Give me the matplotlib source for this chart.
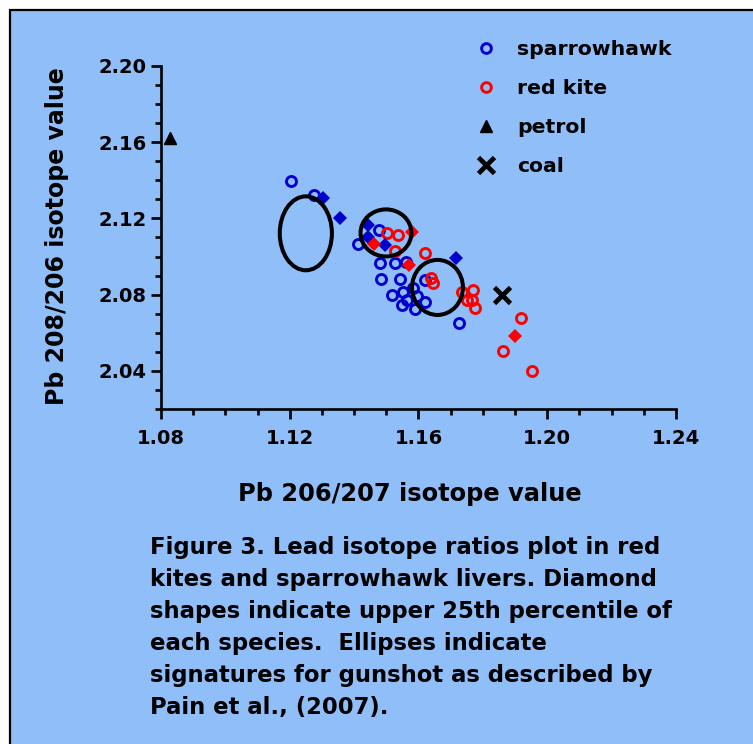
import matplotlib
matplotlib.use("Agg")
import matplotlib.pyplot as plt
from matplotlib.patches import Ellipse, Rectangle
from matplotlib.lines import Line2D
from matplotlib.ticker import MultipleLocator, FormatStrFormatter

plt.rcParams['font.family'] = ['DejaVu Sans']
plt.rcParams['font.weight'] = 'bold'

# ---- data ----
sparrowhawk_x = [1.1204, 1.1275, 1.1477, 1.1412, 1.1480, 1.1527, 1.1561, 1.1483, 1.1542,
                 1.1620, 1.1518, 1.1552, 1.1583, 1.1595, 1.1564, 1.1549, 1.1589, 1.1620, 1.1726]
sparrowhawk_y = [2.1397, 2.1323, 2.1140, 2.1066, 2.0966, 2.0966, 2.0972, 2.0882, 2.0882,
                 2.0877, 2.0799, 2.0814, 2.0835, 2.0793, 2.0772, 2.0746, 2.0725, 2.0762, 2.0652]
sparrowhawk_q_x = [1.1303, 1.1356, 1.1443, 1.1443, 1.1496, 1.1716]
sparrowhawk_q_y = [2.1307, 2.1203, 2.1166, 2.1103, 2.1061, 2.0993]

redkite_x = [1.1502, 1.1536, 1.1527, 1.1620, 1.1639, 1.1645, 1.1735, 1.1769, 1.1751,
             1.1766, 1.1775, 1.1918, 1.1862, 1.1953]
redkite_y = [2.1124, 2.1113, 2.1029, 2.1019, 2.0888, 2.0861, 2.0814, 2.0825, 2.0772,
             2.0772, 2.0730, 2.0678, 2.0505, 2.0400]
redkite_q_x = [1.1580, 1.1462, 1.1570, 1.1900]
redkite_q_y = [2.1129, 2.1066, 2.0956, 2.0583]

petrol_x, petrol_y = [1.0828], [2.1620]
coal_x, coal_y = [1.1858], [2.0799]

# gunshot ellipses: centre x, centre y, width, height
ellipse_cx = [1.1250, 1.1499, 1.1659]
ellipse_cy = [2.1122, 2.1124, 2.0838]
ellipse_w = [0.0162, 0.0158, 0.0158]
ellipse_h = [0.0388, 0.0247, 0.0289]

x_ticks = [1.08, 1.12, 1.16, 1.20, 1.24]
y_ticks = [2.04, 2.08, 2.12, 2.16, 2.20]

caption_lines = [
    "Figure 3. Lead isotope ratios plot in red",
    "kites and sparrowhawk livers. Diamond",
    "shapes indicate upper 25th percentile of",
    "each species.  Ellipses indicate",
    "signatures for gunshot as described by",
    "Pain et al., (2007).",
]

BLUE = '#0000CC'
RED = '#FF0000'
BG = '#8FBEF9'

W, H = 753, 744
fig = plt.figure(figsize=(W / 100, H / 100), dpi=100, facecolor='white')

# background panel with border
fig.patches.append(Rectangle((9.5 / W, -0.1), 1.2, 1 - 10.5 / H + 0.1,
                             transform=fig.transFigure, facecolor=BG,
                             edgecolor='black', linewidth=1.6, zorder=-5))

ax = fig.add_axes([161 / W, 1 - 409 / H, 515 / W, 343 / H])
ax.set_zorder(2)
ax.set_facecolor('none')
ax.set_xlim(1.08, 1.24)
ax.set_ylim(2.02, 2.20)
ax.set_xticks(x_ticks)
ax.set_yticks(y_ticks)
ax.xaxis.set_major_formatter(FormatStrFormatter('%.2f'))
ax.yaxis.set_major_formatter(FormatStrFormatter('%.2f'))
ax.xaxis.set_minor_locator(MultipleLocator(0.01))
ax.yaxis.set_minor_locator(MultipleLocator(0.01))
for s in ['top', 'right']:
    ax.spines[s].set_visible(False)
for s in ['left', 'bottom']:
    ax.spines[s].set_linewidth(1.9)
ax.tick_params(which='major', length=7.5, width=1.9, labelsize=14, pad=3)
ax.tick_params(which='minor', length=4.5, width=1.9)
ax.tick_params(axis='x', which='major', pad=7)
for lab in ax.get_xticklabels() + ax.get_yticklabels():
    lab.set_fontweight('bold')

circ_kw = dict(linestyle='none', marker='o', markersize=7.2, markerfacecolor='none',
               markeredgewidth=2.1)
ax.plot(sparrowhawk_x, sparrowhawk_y, markeredgecolor=BLUE, zorder=3, **circ_kw)
ax.plot(redkite_x, redkite_y, markeredgecolor=RED, zorder=4, **circ_kw)
dia_kw = dict(linestyle='none', marker='D', markersize=6.8, markeredgewidth=0)
ax.plot(sparrowhawk_q_x, sparrowhawk_q_y, color=BLUE, zorder=5, **dia_kw)
ax.plot(redkite_q_x, redkite_q_y, color=RED, zorder=5, **dia_kw)
ax.plot(petrol_x, petrol_y, linestyle='none', marker='^', markersize=9, color='black',
        zorder=5, clip_on=False)
ax.plot(coal_x, coal_y, linestyle='none', marker='x', markersize=11, markeredgewidth=3.4,
        color='black', zorder=5)

for cx, cy, w, h in zip(ellipse_cx, ellipse_cy, ellipse_w, ellipse_h):
    ax.add_patch(Ellipse((cx, cy), w, h, fill=False, edgecolor='black',
                         linewidth=2.9, zorder=6))

handles = [
    Line2D([], [], linestyle='none', marker='o', markersize=7, markerfacecolor='none',
           markeredgecolor=BLUE, markeredgewidth=2.1),
    Line2D([], [], linestyle='none', marker='o', markersize=7, markerfacecolor='none',
           markeredgecolor=RED, markeredgewidth=2.1),
    Line2D([], [], linestyle='none', marker='^', markersize=9, color='black'),
    Line2D([], [], linestyle='none', marker='x', markersize=11, markeredgewidth=3.4,
           color='black'),
]
labels = ['sparrowhawk', 'red kite', 'petrol', 'coal']
fig.legend(handles, labels, loc='upper left', bbox_to_anchor=(466 / W, 1 - 30 / H),
           frameon=False, prop={'size': 14.7, 'weight': 'bold'},
           labelspacing=0.98, handlelength=1.0, handletextpad=1.0, borderpad=0)

fig.text(410 / W, 1 - 494 / H, 'Pb 206/207 isotope value', ha='center', va='center',
         fontsize=17.35, fontweight='bold')
fig.text(57 / W, 1 - 236 / H, 'Pb 208/206 isotope value', ha='center', va='center',
         rotation=90, fontsize=17, fontweight='bold')

for i, line in enumerate(caption_lines):
    fig.text(150 / W, 1 - (554 + 32 * i) / H, line, ha='left', va='baseline',
             fontsize=16.4, fontweight='bold')

fig.savefig('out.png', dpi=100, facecolor='white')
